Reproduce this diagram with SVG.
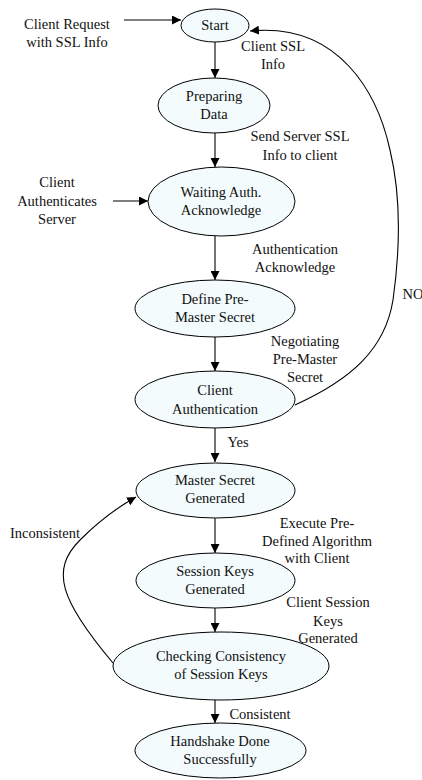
<svg xmlns="http://www.w3.org/2000/svg" width="422" height="780" viewBox="0 0 422 780">
<style>
.n ellipse{fill:#f3fbfc;stroke:#000;stroke-width:1}
text{font-family:"Liberation Serif","Times New Roman",serif;font-size:14.5px;fill:#111;text-anchor:middle}
.c path,.c line{fill:none;stroke:#000;stroke-width:1.1}
</style>
<defs>
<marker id="a" viewBox="0 0 10 10" refX="10" refY="5" markerWidth="9" markerHeight="9" markerUnits="userSpaceOnUse" orient="auto"><path d="M0,0 L10,5 L0,10 z" fill="#000"/></marker>
</defs>
<rect width="422" height="780" fill="#fff"/>
<g class="c">
<line x1="124" y1="20" x2="181" y2="20" marker-end="url(#a)"/>
<line x1="215" y1="42" x2="215" y2="78" marker-end="url(#a)"/>
<line x1="215" y1="133" x2="215" y2="167" marker-end="url(#a)"/>
<line x1="113" y1="201" x2="148" y2="201" marker-end="url(#a)"/>
<line x1="215" y1="236" x2="215" y2="280" marker-end="url(#a)"/>
<line x1="215" y1="337" x2="215" y2="371" marker-end="url(#a)"/>
<line x1="215" y1="428" x2="215" y2="462" marker-end="url(#a)"/>
<line x1="215" y1="518" x2="215" y2="553" marker-end="url(#a)"/>
<line x1="215" y1="608" x2="215" y2="632" marker-end="url(#a)"/>
<line x1="215" y1="700" x2="215" y2="723" marker-end="url(#a)"/>
<path d="M295,405 C350,380 385,350 393,300 C400,250 402,200 390,150 C378,95 340,22 250,31" marker-end="url(#a)"/>
<path d="M113,663 C60,600 50,570 80,540 C100,520 118,507 136,497" marker-end="url(#a)"/>
</g>
<g id="start" class="n"><ellipse cx="215" cy="25.5" rx="34" ry="16.5"/><text x="215" y="30">Start</text></g>
<g id="preparing" class="n"><ellipse cx="214" cy="105.5" rx="56" ry="27.5"/><text x="214" y="101">Preparing</text><text x="214" y="119">Data</text></g>
<g id="waiting" class="n"><ellipse cx="221.5" cy="201.5" rx="73.5" ry="34.5"/><text x="221" y="197">Waiting Auth.</text><text x="221" y="215">Acknowledge</text></g>
<g id="define" class="n"><ellipse cx="215" cy="308.5" rx="80" ry="28.5"/><text x="215" y="304">Define Pre-</text><text x="215" y="322">Master Secret</text></g>
<g id="clientauth" class="n"><ellipse cx="215" cy="399.5" rx="80" ry="28.5"/><text x="215" y="395">Client</text><text x="215" y="414">Authentication</text></g>
<g id="master" class="n"><ellipse cx="215.5" cy="490.5" rx="79.5" ry="27.5"/><text x="215" y="485">Master Secret</text><text x="215" y="503">Generated</text></g>
<g id="session" class="n"><ellipse cx="215.5" cy="580.5" rx="79.5" ry="27.5"/><text x="215" y="576">Session Keys</text><text x="215" y="594">Generated</text></g>
<g id="checking" class="n"><ellipse cx="221" cy="666" rx="108" ry="34"/><text x="221" y="661">Checking Consistency</text><text x="221" y="679">of Session Keys</text></g>
<g id="handshake" class="n"><ellipse cx="220.5" cy="750.5" rx="85.5" ry="27.5"/><text x="220" y="746">Handshake Done</text><text x="220" y="764">Successfully</text></g>
<g id="labels">
<text x="67" y="29">Client Request</text><text x="67" y="47">with SSL Info</text>
<text x="273" y="51">Client SSL</text><text x="273" y="69">Info</text>
<text x="300" y="141">Send Server SSL</text><text x="300" y="160">Info to client</text>
<text x="57" y="187">Client</text><text x="57" y="206">Authenticates</text><text x="57" y="224">Server</text>
<text x="295" y="254">Authentication</text><text x="295" y="272">Acknowledge</text>
<text x="305" y="346">Negotiating</text><text x="305" y="364">Pre-Master</text><text x="305" y="382">Secret</text>
<text x="413" y="299">NO</text>
<text x="238" y="447">Yes</text>
<text x="45" y="538">Inconsistent</text>
<text x="317" y="528">Execute Pre-</text><text x="317" y="546">Defined Algorithm</text><text x="317" y="563">with Client</text>
<text x="328" y="607">Client Session</text><text x="328" y="626">Keys</text><text x="328" y="643">Generated</text>
<text x="260" y="719">Consistent</text>
</g>
</svg>
